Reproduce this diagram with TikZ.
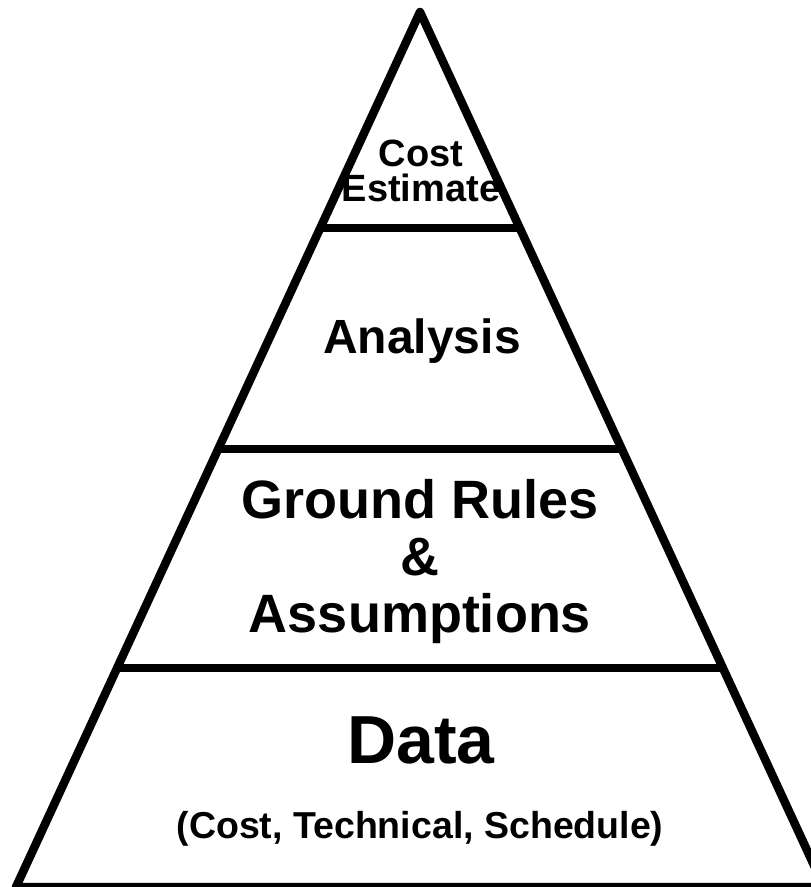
\documentclass[tikz,border=0pt]{standalone}
\usepackage{fontspec}
\setmainfont{Liberation Sans}
\usetikzlibrary{calc}
\tikzset{
  outline/.style={line width=8.5pt, line join=round, black},
  tier/.style={line width=8.5pt, black},
  lbl/.style={anchor=base, inner sep=0pt, font=\bfseries},
}
\newcommand{\fs}[2]{\fontsize{#1}{#2}\selectfont}
\begin{document}
\begin{tikzpicture}[x=1pt,y=-1pt]
  \useasboundingbox (0,0) rectangle (811,887);
  \clip (0,0) rectangle (811,887);
  % pyramid corners
  \coordinate (apex) at (420,12);
  \coordinate (bl) at (16,887);
  \coordinate (br) at (824,887);
  \draw[outline] (bl) -- (apex) -- (br) -- cycle;
  % tier boundaries
  \coordinate (t1l) at (320,228); \coordinate (t1r) at (520,228);
  \coordinate (t2l) at (218,449); \coordinate (t2r) at (622,449);
  \coordinate (t3l) at (117,668); \coordinate (t3r) at (723,668);
  \draw[tier] (t1l) -- (t1r);
  \draw[tier] (t2l) -- (t2r);
  \draw[tier] (t3l) -- (t3r);
  % labels (base anchor sits on the last line's baseline)
  \node[lbl, align=center, font=\bfseries\fs{38}{35}] (ce) at (421,201) {Cost\\Estimate};
  \node[lbl, font=\bfseries\fs{48}{48}] (ana) at (422,353) {Analysis};
  \node[lbl, align=center, font=\bfseries\fs{54}{57}] (gra) at (420,632) {Ground Rules\\\&\\Assumptions};
  \node[lbl, font=\bfseries\fs{68}{68}] (data) at (421,763) {Data};
  \node[lbl, font=\bfseries\fs{37.5}{37.5}] (sub) at (420,838) {(Cost, Technical, Schedule)};
\end{tikzpicture}
\end{document}
